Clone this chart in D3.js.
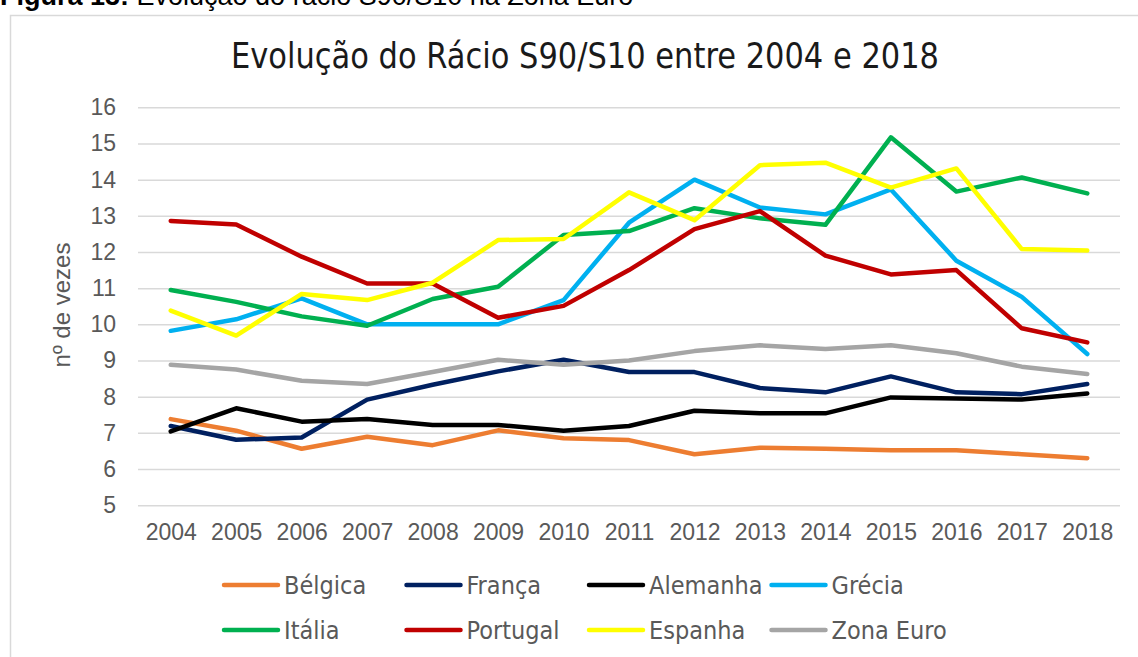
<!DOCTYPE html>
<html>
<head>
<meta charset="utf-8">
<script src="https://cdn.jsdelivr.net/npm/d3@7"></script>
<style>
  body { margin: 0; background: #fff; }
  svg { display: block; }
  .tick text { fill: #595959; font-family: "Liberation Sans", Arial, sans-serif; font-size: 23px; }
  .narrow { font-family: "Liberation Sans Narrow", "DejaVu Sans Condensed", "Liberation Sans", sans-serif; }
</style>
</head>
<body>
<div id="chart"></div>
<script>
years = ["2004","2005","2006","2007","2008","2009","2010","2011","2012","2013","2014","2015","2016","2017","2018"];

belgica   = [7.38, 7.06, 6.56, 6.89, 6.66, 7.07, 6.85, 6.80, 6.41, 6.59, 6.56, 6.52, 6.52, 6.41, 6.30];
franca    = [7.19, 6.81, 6.87, 7.92, 8.33, 8.70, 9.02, 8.68, 8.68, 8.24, 8.12, 8.56, 8.12, 8.07, 8.35];
alemanha  = [7.04, 7.68, 7.31, 7.38, 7.22, 7.22, 7.06, 7.19, 7.61, 7.54, 7.54, 7.98, 7.95, 7.92, 8.09];
grecia    = [9.82, 10.14, 10.72, 10.0, 10.0, 10.0, 10.67, 12.81, 14.0, 13.23, 13.04, 13.73, 11.76, 10.76, 9.18];
italia    = [10.95, 10.62, 10.22, 9.96, 10.70, 11.04, 12.47, 12.58, 13.21, 12.93, 12.75, 15.17, 13.67, 14.06, 13.62];
portugal  = [12.86, 12.76, 11.87, 11.13, 11.13, 10.18, 10.51, 11.50, 12.63, 13.13, 11.90, 11.38, 11.50, 9.89, 9.50];
espanha   = [10.38, 9.69, 10.84, 10.67, 11.15, 12.33, 12.36, 13.65, 12.88, 14.40, 14.47, 13.78, 14.31, 12.08, 12.04];
zonaEuro  = [8.88, 8.75, 8.44, 8.35, 8.68, 9.02, 8.88, 9.00, 9.26, 9.42, 9.32, 9.42, 9.20, 8.83, 8.63];

seriesNames  = ["Bélgica", "França", "Alemanha", "Grécia", "Itália", "Portugal", "Espanha", "Zona Euro"];
seriesValues = [belgica, franca, alemanha, grecia, italia, portugal, espanha, zonaEuro];
seriesColors = ["#ED7D31", "#002060", "#000000", "#00B0F0", "#00B050", "#C00000", "#FFFF00", "#A5A5A5"];

yTicks = [5, 6, 7, 8, 9, 10, 11, 12, 13, 14, 15, 16];

var width = 1138, height = 657;
var plotLeft = 138, plotRight = 1120, plotTop = 107.3, plotBottom = 505.2;

var svg = d3.select("#chart").append("svg")
    .attr("width", width)
    .attr("height", height);

// caption above the chart box (cut off at the top in the source)
var cap = svg.append("text")
    .attr("x", 0)
    .attr("y", 5)
    .attr("font-family", "Liberation Sans, Arial, sans-serif")
    .attr("font-size", 27)
    .attr("fill", "#000");
cap.append("tspan").attr("font-weight", "bold").text("Figura 13:");
cap.append("tspan").text(" Evolução do rácio S90/S10 na Zona Euro");

// chart box
svg.append("rect")
    .attr("x", 10.5)
    .attr("y", 15.5)
    .attr("width", 1200)
    .attr("height", 700)
    .attr("fill", "#fff")
    .attr("stroke", "#d9d9d9")
    .attr("stroke-width", 1.5);

svg.append("text")
    .attr("class", "narrow")
    .attr("x", 585)
    .attr("y", 68)
    .attr("text-anchor", "middle")
    .attr("font-size", 36)
    .attr("fill", "#1a1a1a")
    .attr("textLength", 708)
    .attr("lengthAdjust", "spacingAndGlyphs")
    .text("Evolução do Rácio S90/S10 entre 2004 e 2018");

var x = d3.scalePoint()
    .domain(years)
    .range([plotLeft, plotRight])
    .padding(0.5);

var y = d3.scaleLinear()
    .domain([5, 16])
    .range([plotBottom, plotTop]);

// gridlines
svg.append("g")
    .attr("transform", "translate(" + plotLeft + ",0)")
    .call(d3.axisLeft(y).tickValues(yTicks).tickSize(-(plotRight - plotLeft)).tickFormat(""))
    .call(function(g) { g.select(".domain").remove(); })
    .selectAll("line")
        .attr("stroke", "#d9d9d9")
        .attr("stroke-width", 1.5);

// y labels
svg.append("g")
    .attr("transform", "translate(" + plotLeft + ",0)")
    .call(d3.axisLeft(y).tickValues(yTicks).tickSize(0).tickPadding(22))
    .call(function(g) { g.select(".domain").remove(); });

// x labels
svg.append("g")
    .attr("transform", "translate(0," + plotBottom + ")")
    .call(d3.axisBottom(x).tickSize(0).tickPadding(18))
    .call(function(g) { g.select(".domain").remove(); });

svg.append("text")
    .attr("transform", "translate(70,305) rotate(-90)")
    .attr("text-anchor", "middle")
    .attr("font-family", "Liberation Sans, Arial, sans-serif")
    .attr("font-size", 24)
    .attr("fill", "#595959")
    .text("nº de vezes");

var line = d3.line()
    .x(function(d, i) { return x(years[i]); })
    .y(function(d) { return y(d); });

svg.selectAll("path.serie")
    .data(seriesValues)
    .enter().append("path")
        .attr("class", "serie")
        .attr("d", line)
        .attr("fill", "none")
        .attr("stroke", function(d, i) { return seriesColors[i]; })
        .attr("stroke-width", 4.5)
        .attr("stroke-linejoin", "round")
        .attr("stroke-linecap", "round");

// legend, 4 per row
var leg = svg.selectAll("g.leg")
    .data(seriesNames)
    .enter().append("g")
        .attr("class", "leg")
        .attr("transform", function(d, i) {
            return "translate(" + (222 + (i % 4) * 182.5) + "," + (585 + Math.floor(i / 4) * 45) + ")";
        });

leg.append("line")
    .attr("x1", 2).attr("x2", 56)
    .attr("stroke", function(d, i) { return seriesColors[i]; })
    .attr("stroke-width", 4.5)
    .attr("stroke-linecap", "round");

leg.append("text")
    .attr("class", "narrow")
    .attr("x", 62)
    .attr("dy", "0.35em")
    .attr("font-size", 25)
    .attr("fill", "#595959")
    .text(function(d) { return d; });
</script>
</body>
</html>
